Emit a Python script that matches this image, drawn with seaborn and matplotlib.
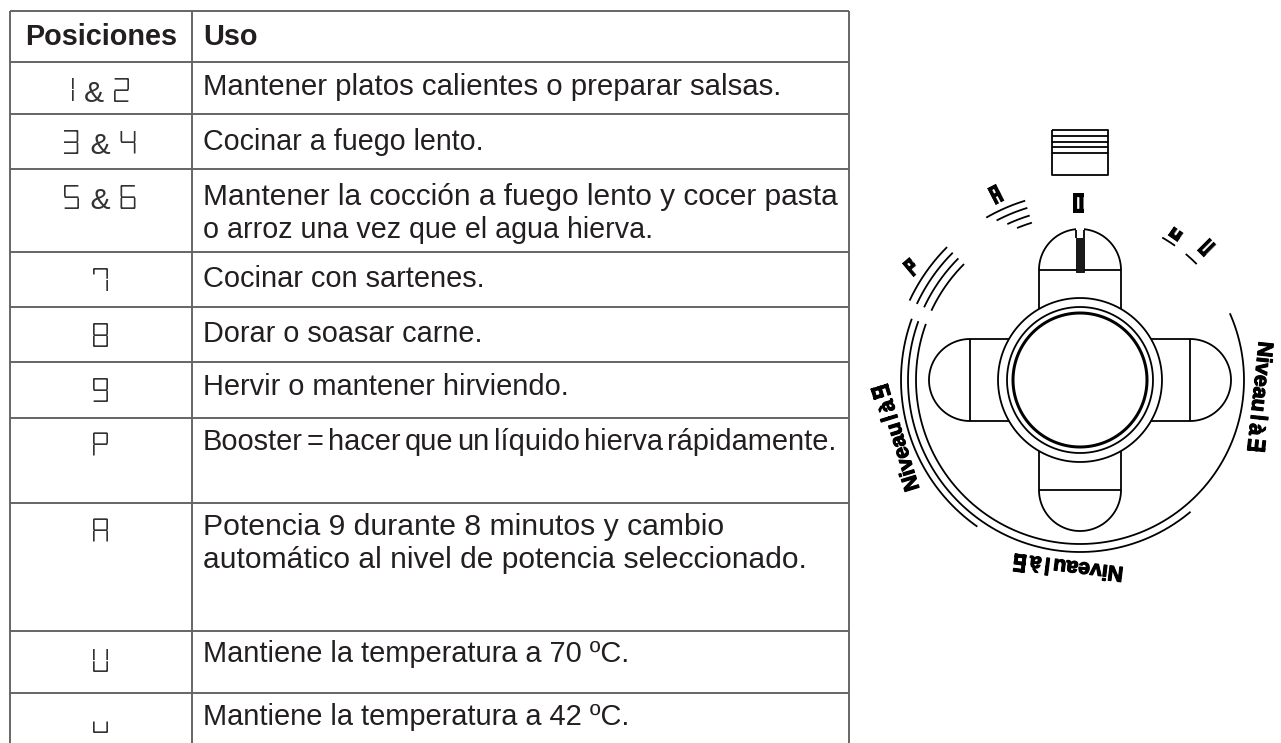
import numpy as np
import matplotlib
matplotlib.use("Agg")
import matplotlib.pyplot as plt
import matplotlib.patheffects as pe
from matplotlib import font_manager as fm
from matplotlib.patches import Rectangle
import seaborn as sns
from fontTools.fontBuilder import FontBuilder
from fontTools.pens.ttGlyphPen import TTGlyphPen

# ---------------- content ----------------
header = ["Posiciones", "Uso"]
positions = ["1 & 2", "3 & 4", "5 & 6", "7", "8", "9", "P", "A", "U", "u"]
uses = [
    ["Mantener platos calientes o preparar salsas."],
    ["Cocinar a fuego lento."],
    ["Mantener la cocción a fuego lento y cocer pasta", "o arroz una vez que el agua hierva."],
    ["Cocinar con sartenes."],
    ["Dorar o soasar carne."],
    ["Hervir o mantener hirviendo."],
    ["Booster = hacer que un líquido hierva rápidamente."],
    ["Potencia 9 durante 8 minutos y cambio", "automático al nivel de potencia seleccionado."],
    ["Mantiene la temperatura a 70 ºC."],
    ["Mantiene la temperatura a 42 ºC."],
]
use_right = [[780], [483], [836, 652], [484], [481], [569], [836], [724, 807], [630], [630]]
row_lines = [11, 62, 114, 169, 252, 307, 362, 418, 503, 631, 693]
pos_base = [102, 154, 209, 292, 347, 402, 457, 543, 672, 733]
use_base = [95, 150, 205, 287, 342, 395, 450, 535, 662, 725]
dial_labels = ["Niveau 1 à 3", "Niveau 1 à 6", "Niveau 1 à 9"]
mark_labels = ["0", "A", "P", "u", "U"]

# ---------------- seven-segment fonts (real glyphs, so labels stay text) ----------------
SEG = {"0": "abcdef", "1": "bc", "2": "abged", "3": "abgcd", "4": "fgbc", "5": "afgcd",
       "6": "afgedc", "7": "abch", "8": "abcdefg", "9": "abcdfg", "P": "abefg",
       "A": "abcefg", "U": "bcdef", "u": "cde"}


def make_font(path, family, chars, w, h, t, g, adv, space):
    def rect(pen, x0, y0, x1, y1):
        pen.moveTo((x0, y0)); pen.lineTo((x0, y1)); pen.lineTo((x1, y1)); pen.lineTo((x1, y0)); pen.closePath()
    names = {c: "g%04x" % ord(c) for c in chars}
    glyphs, metrics = {}, {}
    pen = TTGlyphPen(None)
    rect(pen, 50, 0, 450, 700)
    glyphs[".notdef"] = pen.glyph(); metrics[".notdef"] = (500, 50)
    pen = TTGlyphPen(None)
    glyphs["space"] = pen.glyph(); metrics["space"] = (space, 0)
    m = h // 2
    segs = {
        "a": (g, h - t, w - g, h), "d": (g, 0, w - g, t), "g": (g, m - t // 2, w - g, m + t // 2),
        "b": (w - t, m + g, w, h - g), "c": (w - t, g, w, m - g), "e": (0, g, t, m - g),
        "f": (0, m + g, t, h - g), "h": (0, int(h * .72), t, h - g),
    }
    for c in chars:
        pen = TTGlyphPen(None)
        x_off, a = 0, adv
        if c == "1":
            x_off, a = -(w - t), t + 20
        for s in SEG[c]:
            x0, y0, x1, y1 = segs[s]
            rect(pen, x0 + x_off, y0, x1 + x_off, y1)
        glyphs[names[c]] = pen.glyph()
        metrics[names[c]] = (a, 0)
    order = [".notdef", "space"] + [names[c] for c in chars]
    cmap = {32: "space"}
    cmap.update({ord(c): names[c] for c in chars})
    fb = FontBuilder(1000, isTTF=True)
    fb.setupGlyphOrder(order)
    fb.setupCharacterMap(cmap)
    fb.setupGlyf(glyphs)
    fb.setupHorizontalMetrics(metrics)
    fb.setupHorizontalHeader(ascent=800, descent=-200)
    fb.setupNameTable({"familyName": family, "styleName": "Regular"})
    fb.setupOS2(sTypoAscender=800, sTypoDescender=-200, usWinAscent=800, usWinDescent=200)
    fb.setupPost()
    fb.save(path)
    fm.fontManager.addfont(path)


make_font("lcd.ttf", "LCD Thin", "0123456789PAUu", 500, 800, 56, 22, 560, 330)
make_font("lcdb.ttf", "LCD Bold", "0PAUu", 420, 800, 165, 0, 480, 200)
make_font("lcdd.ttf", "LCD Digits", "0123456789", 500, 800, 130, 0, 600, 200)

# ---------------- figure ----------------
sns.set_theme(style="white")
plt.rcParams["font.family"] = ["Liberation Sans", "DejaVu Sans"]
W, H = 1281, 743
fig = plt.figure(figsize=(W / 100, H / 100), dpi=100, facecolor="white")
ax = fig.add_axes([0, 0, 1, 1])
PX = 0.72
TEXT = "#231f20"


def stroke(xs, ys, color="black", px=1.8, z=3):
    sns.lineplot(x=np.asarray(xs, float), y=np.asarray(ys, float), sort=False, estimator=None,
                 errorbar=None, color=color, linewidth=px * PX, legend=False, ax=ax, zorder=z,
                 solid_capstyle="butt")


def arc(r, a0, a1, cx=1080, cy=380, px=1.8):
    t = np.radians(np.linspace(a0, a1, 240))
    stroke(cx + r * np.cos(t), cy - r * np.sin(t), px=px)


# table grid
for y in row_lines:
    stroke([10, 849], [y, y], color="#444444", px=1.6)
for x in (10, 192, 849):
    stroke([x, x], [11, 743], color="#636363", px=1.9)

# table text
renderer = fig.canvas.get_renderer()
ax.text(101, 45, header[0], ha="center", va="baseline", fontsize=20.75, fontweight="bold", color=TEXT)
ax.text(203, 45, header[1], ha="left", va="baseline", fontsize=20.75, fontweight="bold", color=TEXT)
body_size = 20.9
body_fp = fm.FontProperties(family="Liberation Sans", size=body_size)


def text_w(s, fp=body_fp):
    return renderer.get_text_width_height_descent(s, fp, False)[0]


for p, by in zip(positions, pos_base):
    ax.text(101, by, p, ha="center", va="baseline", fontsize=21.6, color="#333333",
            family=["LCD Thin", "Liberation Sans"])
for lines, rights, by in zip(uses, use_right, use_base):
    for i, (line, right) in enumerate(zip(lines, rights)):
        y = by + i * 33
        if line.startswith("Booster"):
            # this line is set with almost no word spacing in the reference
            words = line.split(" ")
            ws = [text_w(w) for w in words]
            gap = (right - 203 - sum(ws)) / (len(words) - 1)
            x = 203
            for w, wd in zip(words, ws):
                ax.text(x, y, w, ha="left", va="baseline", fontproperties=body_fp, color=TEXT)
                x += wd + gap
        else:
            size = body_size * (right - 203) / text_w(line)
            ax.text(203, y, line, ha="left", va="baseline", fontsize=size, color=TEXT)

# dial: rings
arc(82, 0, 360)
arc(73, 0, 360)
arc(67, 0, 360, px=3)

# dial: four arms
R = 41
D = 110
J = 71
for k in range(4):
    c, s = np.cos(k * np.pi / 2), np.sin(k * np.pi / 2)
    def rot(u, v):
        u, v = np.asarray(u, float), np.asarray(v, float)
        return 1080 + u * c - v * s, 380 - (u * s + v * c)
    stroke(*rot([J, D], [R, R]))
    stroke(*rot([J, D], [-R, -R]))
    stroke(*rot([D, D], [-R, R]))
    t = np.radians(np.linspace(-90, 90, 120))
    stroke(*rot(D + R * np.cos(t), R * np.sin(t)))

# top arm notch
ax.add_patch(Rectangle((1076, 228), 8, 10, facecolor="white", edgecolor="none", zorder=4))
ax.add_patch(Rectangle((1076, 238), 8, 34, facecolor="#1a1a1a", edgecolor="black", lw=0.6, zorder=4))
stroke([1076, 1076], [230, 238], z=5)
stroke([1084, 1084], [230, 238], z=5)

# slider icon
stroke([1052, 1108, 1108, 1052, 1052], [130, 130, 175, 175, 130])
for y in (136, 142, 147, 153):
    stroke([1052, 1108], [y, y])

# dial: long arcs
arc(179, 160, 235)
arc(172, 160, 310)
arc(164, 160, 384)

# booster and auto arcs
for r in (188, 180, 172, 164):
    arc(r, 135, 155)
for r, a0 in zip((187.5, 180, 172, 164.5), (120, 117.6, 115, 112.5)):
    arc(r, 107, a0)
arc(164.5, 54.7, 60)
arc(164.5, 44.8, 50)

# dial: marks
for s, x, y, rot_, fs in zip(mark_labels, (1079, 997, 912, 1178, 1206), (203, 194, 267, 231, 248),
                             (0, 27, 40, -35, -45), (18, 17, 16.5, 20, 16.5)):
    ax.text(x, y, s, ha="center", va="center", rotation=rot_, rotation_mode="anchor",
            fontsize=fs, color="black", family=["LCD Bold"])

# dial: level labels
for s, x, y, rot_ in zip(dial_labels, (1258.5, 1068, 898), (397, 566, 437), (-96, 173, 107)):
    ax.text(x, y, s, ha="center", va="center", rotation=rot_, rotation_mode="anchor", fontsize=15.5,
            fontweight="bold", color="black", family=["LCD Digits", "Liberation Sans"],
            path_effects=[pe.withStroke(linewidth=0.8, foreground="black")])

ax.set_xlim(0, W)
ax.set_ylim(H, 0)
ax.axis("off")
fig.savefig("out.png", dpi=100, facecolor="white")
